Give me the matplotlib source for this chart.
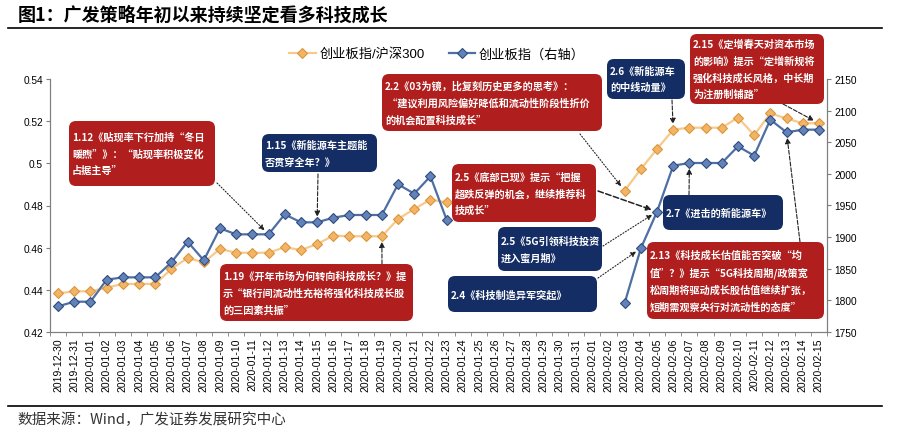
import numpy as np
import pandas as pd
import matplotlib
matplotlib.use('Agg')
import matplotlib.pyplot as plt
from matplotlib.patches import FancyBboxPatch
from matplotlib.ticker import FuncFormatter

plt.rcParams['font.family'] = ['Liberation Sans', 'Noto Sans CJK SC']

dates = pd.date_range('2019-12-30', '2020-02-15').strftime('%Y-%m-%d').tolist()
nan = np.nan
# 创业板指/沪深300 (left axis)
ratio = [0.4383, 0.4393, 0.4393, 0.4410, 0.4428, 0.4428, 0.4428, 0.4499, 0.4551, 0.4530,
         0.4594, 0.4576, 0.4576, 0.4576, 0.4602, 0.4589, 0.4617, 0.4657, 0.4654, 0.4654,
         0.4654, 0.4736, 0.4783, 0.4828, 0.4815,
         nan, nan, nan, nan, nan, nan, nan, nan, nan, nan,
         0.4870, 0.4973, 0.5068, 0.5160, 0.5169, 0.5169, 0.5169, 0.5217, 0.5134, 0.5237,
         0.5213, 0.5190, 0.5190]
# 创业板指 (right axis)
cyb = [1790.6, 1797.9, 1797.9, 1832.7, 1836.4, 1836.4, 1836.4, 1860.1, 1892.8, 1863.3,
       1913.9, 1904.4, 1904.4, 1904.4, 1936.0, 1923.4, 1923.4, 1930.7, 1935.0, 1935.0,
       1935.0, 1983.5, 1968.7, 1996.1, 1927.6,
       nan, nan, nan, nan, nan, nan, nan, nan, nan, nan,
       1795.8, 1882.3, 1940.2, 2013.0, 2017.2, 2017.2, 2017.2, 2043.5, 2028.8, 2085.7,
       2065.7, 2069.9, 2069.9]

W, H = 907, 435
RED, NAVY = '#B01E1E', '#142D64'

fig = plt.figure(figsize=(W / 100, H / 100), dpi=100)
ax = fig.add_axes([50 / W, 1 - 333 / H, 777 / W, 253 / H])
ax2 = ax.twinx()

x = np.arange(len(dates))
l1, = ax.plot(x, ratio, color='#F7C98A', lw=1.6, marker='D', ms=5.5,
              mfc='#F3B565', mec='#D9963F', mew=0.8)
l2, = ax2.plot(x, cyb, color='#4D6FA3', lw=1.6, marker='D', ms=5.5,
               mfc='#6383B8', mec='#2F4C80', mew=0.8)

ax.set_xlim(-0.5, len(dates) - 0.5)
ax.set_ylim(0.42, 0.54)
ax2.set_ylim(1750, 2150)
ax.set_yticks(np.arange(0.42, 0.5401, 0.02))
ax.yaxis.set_major_formatter(FuncFormatter(lambda v, p: f'{round(v, 2):g}'))
ax2.set_yticks(np.arange(1750, 2151, 50))
ax.set_xticks(x)
ax.set_xticklabels(dates, rotation=90, fontsize=7.5)
ax.set_xticks(np.arange(-0.5, len(dates), 1), minor=True)
ax.tick_params(axis='x', which='major', length=0, pad=4)
ax.tick_params(axis='x', which='minor', length=3, color='#7f7f7f')
ax.tick_params(axis='y', length=3, pad=2, labelsize=7.3, color='#7f7f7f')
ax2.tick_params(axis='y', length=3, pad=2, labelsize=7.3, color='#7f7f7f')
for a in (ax, ax2):
    a.spines['top'].set_visible(False)
    for s in ('left', 'right', 'bottom'):
        a.spines[s].set_color('#7f7f7f')

fig.legend([l1, l2], ['创业板指/沪深300', '创业板指（右轴）'], loc='center',
           bbox_to_anchor=(437 / W, 1 - 55 / H), ncol=2, frameon=False,
           fontsize=9.5, handlelength=2.0, columnspacing=1.8, handletextpad=0.3)

# title, source and rules
fig.text(18 / W, 1 - 15 / H, '图1：广发策略年初以来持续坚定看多科技成长',
         fontsize=13, fontweight='bold', va='center', family=['Noto Sans CJK SC'])
fig.text(17 / W, 1 - 420 / H, '数据来源：Wind，广发证券发展研究中心',
         fontsize=10.5, color='#333333', va='center', family=['Noto Sans CJK SC'])
fig.add_artist(plt.Line2D([8 / W, 882 / W], [1 - 29 / H] * 2, color='k', lw=1.2))
fig.add_artist(plt.Line2D([8 / W, 882 / W], [1 - 407 / H] * 2, color='k', lw=1.2))

# annotation boxes: (x0, y0, x1, y1) in px from top-left
boxes = [
    ((69, 122, 215, 187), RED, '1.12《贴现率下行加持“冬日\n暖煦”》：“贴现率积极变化\n占据主导”'),
    ((262, 135, 377, 173), NAVY, '1.15《新能源车主题能\n否贯穿全年？》'),
    ((220, 265, 413, 322), RED, '1.19《开年市场为何转向科技成长？》提\n示“银行间流动性充裕将强化科技成长股\n的三因素共振”'),
    ((382, 75, 602, 132), RED, '2.2《03为镜，比复刻历史更多的思考》：\n “建议利用风险偏好降低和流动性阶段性折价\n的机会配置科技成长”'),
    ((452, 165, 596, 223), RED, '2.5《底部已现》提示“把握\n超跌反弹的机会，继续推荐科\n技成长”'),
    ((498, 228, 602, 272), NAVY, '2.5《5G引领科技投资\n进入蜜月期》'),
    ((448, 277, 597, 313), NAVY, '2.4《科技制造异军突起》'),
    ((607, 60, 685, 100), NAVY, '2.6《新能源车\n的中线动量》'),
    ((663, 196, 783, 231), NAVY, '2.7《进击的新能源车》'),
    ((647, 243, 824, 320), RED, '2.13《科技成长估值能否突破“均\n值”？》提示“5G科技周期/政策宽\n松周期将驱动成长股估值继续扩张，\n短期需观察央行对流动性的态度”'),
    ((690, 35, 824, 105), RED, '2.15《定增春天对资本市场\n的影响》提示“定增新规将\n强化科技成长风格，中长期\n为注册制铺路”'),
]
for (x0, y0, x1, y1), c, s in boxes:
    p = FancyBboxPatch((x0 / 100, (H - y1) / 100), (x1 - x0) / 100, (y1 - y0) / 100,
                       boxstyle='round,pad=0,rounding_size=0.07', fc=c, ec='none',
                       transform=fig.dpi_scale_trans, zorder=5)
    fig.add_artist(p)
    fig.text((x0 + 3) / 100, (H - (y0 + y1) / 2) / 100, s, transform=fig.dpi_scale_trans,
             color='white', fontsize=7.3, fontweight='bold', va='center', ha='left',
             linespacing=1.75, family=['Noto Sans CJK SC'], zorder=6)

# arrows: start px (top-left origin), target series, index, linestyle, width
arrows = [
    ((217, 184), 'cyb', 13, ':', 0.8),
    ((318, 175), 'cyb', 16, '--', 0.8),
    ((382, 265), 'ratio', 20, '--', 0.8),
    ((580, 135), 'ratio', 35, ':', 0.8),
    ((598, 192), 'cyb', 37, '--', 1.1),
    ((603, 247), 'cyb', 37, ':', 0.8),
    ((598, 279), 'cyb', 36, ':', 0.8),
    ((672, 101), 'ratio', 38, '--', 0.8),
    ((689, 196), 'cyb', 39, '--', 0.8),
    ((800, 243), 'cyb', 45, '--', 0.8),
    ((783, 105), 'ratio', 47, '--', 0.8),
]
for (px, py), series, i, ls, lw in arrows:
    if series == 'cyb':
        xy, tr = (i, cyb[i]), ax2.transData
    else:
        xy, tr = (i, ratio[i]), ax.transData
    ax2.annotate('', xy=xy, xycoords=tr, xytext=(px, H - py), textcoords='figure pixels',
                 arrowprops=dict(arrowstyle='-|>', color='#222222', lw=lw, ls=ls,
                                 mutation_scale=8, shrinkA=0, shrinkB=4))

fig.savefig('out.png', dpi=100)
